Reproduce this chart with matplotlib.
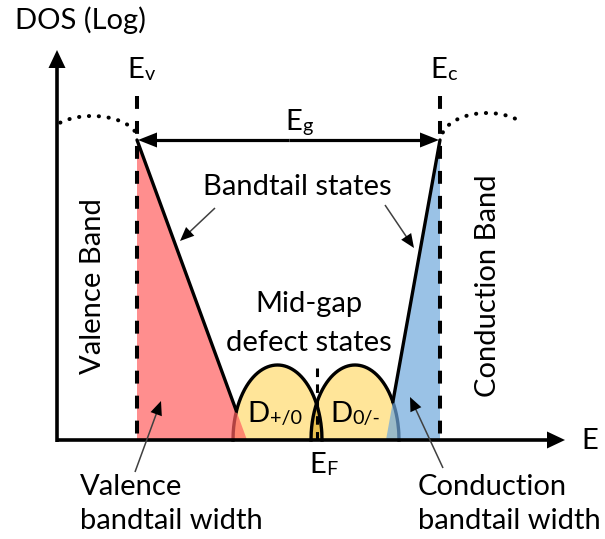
import numpy as np
import matplotlib
matplotlib.use('Agg')
import matplotlib.pyplot as plt
from matplotlib.patches import Polygon

plt.rcParams['font.family'] = ['Lato', 'DejaVu Sans']
FS = 21

# ---- schematic values (pixel-like energy / DOS coordinates) ----
origin = [57, 440]          # axis origin (E, DOS)
axis_ends = [565, 50]       # E-axis end, DOS-axis end
band_edges = [137, 440]     # Ev, Ec
edge_top = 140              # DOS level at band edges
tail_ends = [247, 386]      # where valence / conduction tails reach the E axis
E_F = 317
dome_bounds_left = [233, 322]
dome_bounds_right = [311, 399]
dome_height = 75
vb_curve = [92, 46, 24]     # centre, half-width, height of valence band DOS arc
cb_curve = [487, 46, 27]

red = '#FF5F5F'
blue = '#6FA8DC'
yellow = '#FFE599'

W, H = 605, 539
fig = plt.figure(figsize=(W / 100, H / 100), dpi=100)
ax = fig.add_axes([0, 0, 1, 1])
ax.set_xlim(0, W)
ax.set_ylim(H, 0)
ax.axis('off')


def arrow(x0, y0, x1, y1, hl, hw, lw, color='black', lcolor=None, z=5):
    d = np.array([x1 - x0, y1 - y0], float)
    L = np.hypot(*d)
    u = d / L
    n = np.array([-u[1], u[0]])
    base = np.array([x1, y1]) - u * hl
    ax.plot([x0, base[0] + u[0] * 2], [y0, base[1] + u[1] * 2],
            color=lcolor or color, lw=lw, solid_capstyle='butt', zorder=z)
    tri = [[x1, y1], base + n * hw / 2, base - n * hw / 2]
    ax.add_patch(Polygon(tri, closed=True, color=color, lw=0, zorder=z))


y0 = origin[1]

# ---- mid-gap defect domes ----
def dome(bounds):
    x = np.linspace(bounds[0], bounds[1], 400)
    c = (bounds[0] + bounds[1]) / 2
    hw = (bounds[1] - bounds[0]) / 2
    u = (x - c) / hw
    h = dome_height * np.clip(1 - u ** 2, 0, None) ** 0.5
    return x, h

xl, hl_ = dome(dome_bounds_left)
xr, hr_ = dome(dome_bounds_right)
ax.fill_between(xl, y0, y0 - hl_, color=yellow, lw=0, zorder=2)
ax.fill_between(xr, y0, y0 - hr_, color=yellow, lw=0, zorder=2)
xo = np.linspace(dome_bounds_right[0], dome_bounds_left[1], 80)
ho = np.minimum(np.interp(xo, xl, hl_), np.interp(xo, xr, hr_))
ax.fill_between(xo, y0, y0 - ho, color='#E8C050', lw=0, zorder=2.1)
ax.plot(xl, y0 - hl_, color='black', lw=2.4, zorder=2.5)
ax.plot(xr, y0 - hr_, color='black', lw=2.4, zorder=2.5)

# ---- band tails ----
ax.add_patch(Polygon([[band_edges[0], edge_top], [band_edges[0], y0], [tail_ends[0], y0]],
                     closed=True, facecolor=red, alpha=0.7, lw=0, zorder=3))
ax.add_patch(Polygon([[band_edges[1], edge_top], [band_edges[1], y0], [tail_ends[1], y0]],
                     closed=True, facecolor=blue, alpha=0.7, lw=0, zorder=3))


def tail_line(xe, xt, dx, dh):
    ys = np.linspace(edge_top, y0, 2000)
    xs = xe + (xt - xe) * (ys - edge_top) / (y0 - edge_top)
    hd = np.interp(xs, dx, dh, left=0, right=0)
    inside = (y0 - ys) <= hd
    idx = np.argmax(inside) if inside.any() else len(ys) - 1
    ax.plot(xs[:idx + 1], ys[:idx + 1], color='black', lw=2.4, zorder=4,
            solid_capstyle='round')

tail_line(band_edges[0], tail_ends[0], xl, hl_)
tail_line(band_edges[1], tail_ends[1], xr, hr_)

# ---- band edge dashed lines ----
for xe in band_edges:
    ax.plot([xe, xe], [96, y0], color='black', lw=2.9, ls=(0, (3.2, 3.0)), zorder=4)
ax.plot([E_F, E_F], [368, y0], color='black', lw=2.2, ls=(0, (2.8, 2.4)), zorder=4)

# ---- band DOS dotted arcs ----
for c, r, a in (vb_curve, cb_curve):
    x = np.linspace(c - r * 0.69 if c < 300 else c - r * 0.96,
                    c + r * 0.96 if c < 300 else c + r * 0.66, 100)
    u = (x - c) / r
    y = edge_top - a * np.sqrt(np.clip(1 - u ** 2, 0, None))
    ax.plot(x, y, color='black', lw=2.9, ls=(0, (0.05, 2.4)),
            dash_capstyle='round', zorder=4)

# ---- axes ----
arrow(origin[0], y0 + 1.5, origin[0], axis_ends[1], 18, 17, 2.6)
arrow(origin[0] - 1.5, y0, axis_ends[0], y0, 18, 17, 2.6)

# ---- Eg double arrow ----
arrow((band_edges[0] + band_edges[1]) / 2, edge_top, band_edges[0] + 1, edge_top, 19, 15, 2.3)
arrow((band_edges[0] + band_edges[1]) / 2, edge_top, band_edges[1] - 1, edge_top, 19, 15, 2.3)

# ---- thin annotation arrows ----
arrow(215, 208, 180, 241, 14, 12, 1.1, lcolor='#404040')
arrow(385, 205, 414, 248, 14, 12, 1.1, lcolor='#404040')
arrow(135, 472, 161, 401, 14, 12, 1.1, lcolor='#404040')
arrow(443, 468, 410, 397, 14, 12, 1.1, lcolor='#404040')

# ---- texts ----
t = dict(fontsize=FS, color='black', zorder=6)


def sub_label(x, y, main, sub):
    m = ax.text(x, y, main, ha='left', va='center', **t)
    ax.annotate(sub, xy=(1, 0), xycoords=m, xytext=(0.5, 2.0),
                textcoords='offset points', ha='left', va='baseline',
                fontsize=FS * 0.68, zorder=6)


ax.text(15, 20, 'DOS (Log)', ha='left', va='center', **t)
sub_label(127, 70, 'E', 'v')
sub_label(430, 70, 'E', 'c')
sub_label(285, 122, 'E', 'g')
sub_label(247, 414, 'D', '+/0')
sub_label(330, 414, 'D', '0/-')
sub_label(309, 465, 'E', 'F')
ax.text(297, 187, 'Bandtail states', ha='center', va='center', **t)
ax.text(93, 286, 'Valence Band', ha='center', va='center', rotation=90, **t)
ax.text(488, 286, 'Conduction Band', ha='center', va='center', rotation=90, **t)
ax.text(309, 304, 'Mid-gap', ha='center', va='center', **t)
ax.text(309, 343, 'defect states', ha='center', va='center', **t)
ax.text(590, 441, 'E', ha='center', va='center', **t)
ax.text(80, 487, 'Valence', ha='left', va='center', **t)
ax.text(80, 521, 'bandtail width', ha='left', va='center', **t)
ax.text(418, 487, 'Conduction', ha='left', va='center', **t)
ax.text(418, 521, 'bandtail width', ha='left', va='center', **t)

fig.savefig('out.png', dpi=100)
